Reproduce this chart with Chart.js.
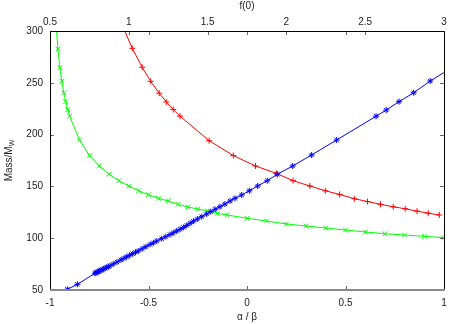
<!DOCTYPE html>
<html>
<head>
<meta charset="utf-8">
<script src="https://cdn.jsdelivr.net/npm/chart.js@4.4.1/dist/chart.umd.min.js"></script>
<style>
  html, body { margin: 0; padding: 0; background: #fff; }
  canvas { display: block; }
</style>
</head>
<body>
<canvas id="chart" width="463" height="324"></canvas>
<script>
// tick values
const alphaTicks = [-1, -0.5, 0, 0.5, 1];
const f0Ticks = [0.5, 1, 1.5, 2, 2.5, 3];
const massTicks = [50, 100, 150, 200, 250, 300];

// green: mass vs f(0) (top axis)
const greenF0 = [0.539, 0.55, 0.5625, 0.575, 0.5875, 0.6, 0.6125, 0.625, 0.6875, 0.75, 0.8125, 0.875, 0.9375,
  1.0, 1.0625, 1.125, 1.1875, 1.25, 1.3125, 1.375, 1.4375, 1.5, 1.5625, 1.625, 1.75, 1.875, 2.0, 2.125,
  2.25, 2.375, 2.5, 2.625, 2.75, 2.875, 3.0];
const greenMass = [306, 282.6, 264.6, 251.7, 240.4, 231.8, 224.0, 217.7, 194.8, 180.0, 169.7, 161.9, 155.5,
  150.4, 145.8, 142.0, 138.5, 135.9, 132.7, 130.1, 128.2, 126.3, 124.0, 122.4, 119.2, 116.6, 113.7, 111.8,
  109.8, 107.9, 106.0, 104.3, 103.1, 101.8, 100.5];

// red: mass vs f(0) (top axis)
const redF0 = [0.957, 1.022, 1.085, 1.139, 1.193, 1.238, 1.282, 1.325, 1.510, 1.663, 1.804, 1.937, 2.042,
  2.149, 2.247, 2.338, 2.431, 2.515, 2.597, 2.678, 2.754, 2.829, 2.900, 2.970];
const redMass = [306, 283.3, 265.0, 251.4, 240.0, 231.5, 224.2, 217.8, 194.1, 179.8, 169.7, 162.5, 155.5,
  150.4, 145.8, 142.2, 138.1, 135.4, 132.7, 130.3, 128.4, 126.1, 124.1, 122.4];

// blue: mass vs alpha/beta (bottom axis)
const blueAlpha = [1.04, 0.930, 0.846, 0.772, 0.707, 0.655, 0.455, 0.328, 0.232, 0.154, 0.103, 0.054, 0.012,
  -0.027, -0.061, -0.086, -0.112, -0.137, -0.162, -0.184, -0.205, -0.230, -0.252, -0.272, -0.289, -0.306,
  -0.323, -0.340, -0.357, -0.374, -0.391, -0.412, -0.433, -0.458, -0.475, -0.492, -0.513, -0.532, -0.552,
  -0.566, -0.580, -0.596, -0.611, -0.625, -0.640, -0.660, -0.679, -0.696, -0.704, -0.712, -0.720, -0.727,
  -0.734, -0.742, -0.749, -0.755, -0.761, -0.767, -0.772, -0.861, -0.912];
const blueMass = [264.6, 251.7, 240.4, 231.8, 223.7, 217.7, 194.8, 180.3, 169.7, 161.7, 155.5, 150.4, 145.8,
  141.7, 138.5, 135.9, 133.0, 130.4, 127.9, 125.6, 123.4, 120.8, 118.5, 116.4, 114.4, 112.3,
  110.4, 108.6, 106.9, 105.2, 103.5, 101.5, 99.5, 97.3, 95.6, 94.0, 91.8, 89.8, 87.7,
  86.4, 85.0, 83.5, 82.0, 80.5, 79.0, 77.0, 75.1, 73.4, 72.5, 71.8, 71.1, 70.4,
  69.7, 69.0, 68.4, 67.8, 67.2, 66.6, 66.1, 55.5, 50.7];

const FONT = '"Liberation Sans", Arial, sans-serif';

function pairs(xs, ys) {
  return xs.map((x, i) => ({ x: x, y: ys[i] }));
}

// inward ticks, border and the y title with subscript
const gnuFrame = {
  id: 'gnuFrame',
  afterDraw(chart) {
    const { ctx, chartArea: a, scales } = chart;
    ctx.save();
    ctx.lineWidth = 1;
    ctx.strokeStyle = '#666';
    ctx.beginPath();
    scales.y.ticks.forEach(t => {
      const y = Math.round(scales.y.getPixelForValue(t.value)) + 0.5;
      ctx.moveTo(a.left, y); ctx.lineTo(a.left + 4, y);
      ctx.moveTo(a.right, y); ctx.lineTo(a.right - 4, y);
    });
    scales.x.ticks.forEach(t => {
      const x = Math.round(scales.x.getPixelForValue(t.value)) + 0.5;
      ctx.moveTo(x, a.bottom); ctx.lineTo(x, a.bottom - 4);
      ctx.moveTo(x, a.top); ctx.lineTo(x, a.top + 4);
    });
    scales.x2.ticks.forEach(t => {
      const x = Math.round(scales.x2.getPixelForValue(t.value)) + 0.5;
      ctx.moveTo(x, a.top); ctx.lineTo(x, a.top + 4);
    });
    ctx.stroke();

    ctx.strokeStyle = '#000';
    ctx.beginPath();
    ctx.moveTo(a.left + 0.5, a.bottom);
    ctx.lineTo(a.left + 0.5, a.top + 0.5);
    ctx.lineTo(a.right + 0.5, a.top + 0.5);
    ctx.lineTo(a.right + 0.5, a.bottom);
    ctx.stroke();
    ctx.strokeStyle = '#888';
    ctx.lineWidth = 2;
    ctx.beginPath();
    ctx.moveTo(a.left, a.bottom);
    ctx.lineTo(a.right + 1, a.bottom);
    ctx.stroke();

    // y axis title
    ctx.translate(9, (a.top + a.bottom) / 2);
    ctx.rotate(-Math.PI / 2);
    ctx.fillStyle = '#222';
    ctx.textBaseline = 'middle';
    ctx.font = '10px ' + FONT;
    const main = 'Mass/M';
    ctx.font = '7px ' + FONT;
    const subW = ctx.measureText('W').width;
    ctx.font = '10px ' + FONT;
    const mainW = ctx.measureText(main).width;
    const x0 = -(mainW + subW) / 2;
    ctx.textAlign = 'left';
    ctx.fillText(main, x0, 0);
    ctx.font = '7px ' + FONT;
    ctx.fillText('W', x0 + mainW, 3);
    ctx.restore();
  }
};

new Chart(document.getElementById('chart'), {
  type: 'line',
  data: {
    datasets: [
      {
        label: 'blue',
        data: pairs(blueAlpha, blueMass),
        xAxisID: 'x',
        borderColor: '#0000ff',
        pointBorderColor: '#0000ff',
        pointStyle: 'star',
        pointRadius: 3,
        pointBorderWidth: 1
      },
      {
        label: 'green',
        data: pairs(greenF0, greenMass),
        xAxisID: 'x2',
        borderColor: '#00ff00',
        pointBorderColor: '#00ff00',
        pointStyle: 'crossRot',
        pointRadius: 3.3,
        pointBorderWidth: 1
      },
      {
        label: 'red',
        data: pairs(redF0, redMass),
        xAxisID: 'x2',
        borderColor: '#ff0000',
        pointBorderColor: '#ff0000',
        pointStyle: 'cross',
        pointRadius: 3,
        pointBorderWidth: 1
      }
    ]
  },
  options: {
    responsive: false,
    animation: false,
    devicePixelRatio: 1,
    layout: { padding: { left: 0, right: 19, top: 0, bottom: 0 } },
    elements: { line: { borderWidth: 1, tension: 0 } },
    plugins: { legend: { display: false }, tooltip: { enabled: false } },
    scales: {
      x: {
        type: 'linear',
        position: 'bottom',
        min: -1, max: 1,
        grid: { display: false, drawTicks: false },
        border: { display: false },
        afterBuildTicks: s => { s.ticks = alphaTicks.map(v => ({ value: v })); },
        afterFit: s => { s.height = 34; },
        ticks: { color: '#222', padding: 7, maxRotation: 0, autoSkip: false, font: { family: FONT, size: 10 },
          callback: v => String(v) },
        title: { display: true, text: 'α / β', color: '#222', font: { family: FONT, size: 10 },
          padding: { top: 0, bottom: 1 } }
      },
      x2: {
        type: 'linear',
        position: 'top',
        min: 0.5, max: 3,
        grid: { display: false, drawTicks: false },
        border: { display: false },
        afterBuildTicks: s => { s.ticks = f0Ticks.map(v => ({ value: v })); },
        afterFit: s => { s.height = 31; },
        ticks: { color: '#222', padding: 3, maxRotation: 0, autoSkip: false, font: { family: FONT, size: 10 },
          callback: v => String(v) },
        title: { display: true, text: 'f(0)', color: '#222', font: { family: FONT, size: 10 },
          padding: { top: 0, bottom: 0 } }
      },
      y: {
        type: 'linear',
        position: 'left',
        min: 50, max: 300,
        grid: { display: false, drawTicks: false },
        border: { display: false },
        afterBuildTicks: s => { s.ticks = massTicks.map(v => ({ value: v })); },
        afterFit: s => { s.width = 50; },
        ticks: { color: '#222', padding: 7, autoSkip: false, font: { family: FONT, size: 10 },
          callback: v => String(v) }
      }
    }
  },
  plugins: [gnuFrame]
});
</script>
</body>
</html>
